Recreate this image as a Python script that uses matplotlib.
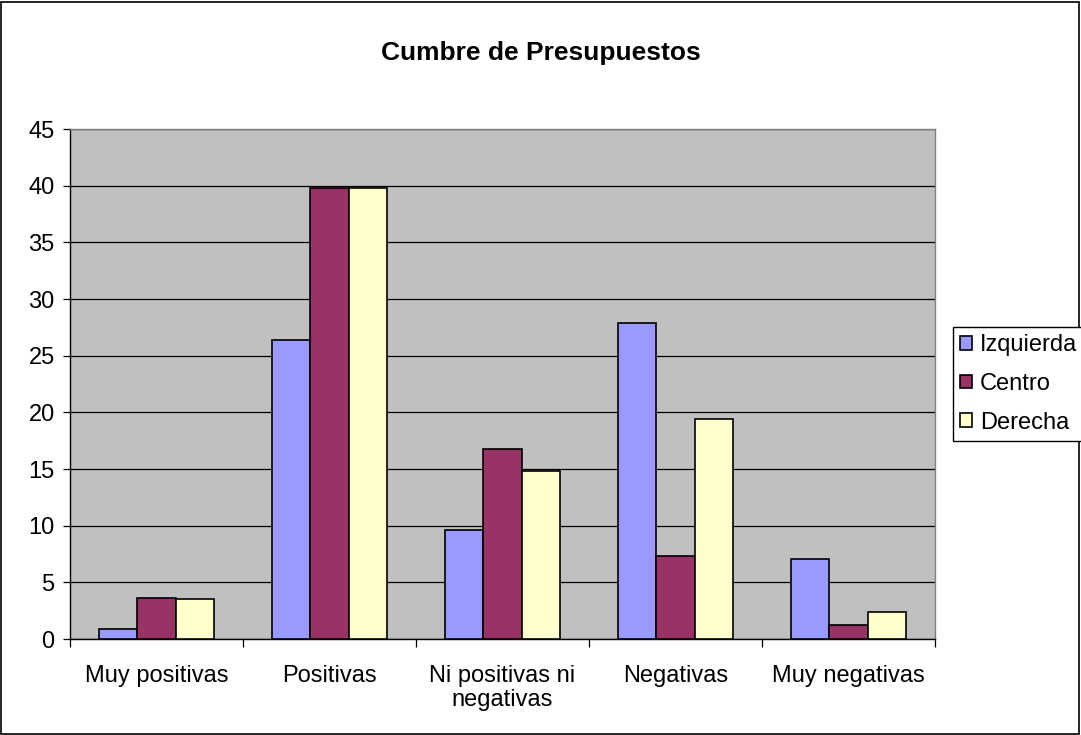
import matplotlib
matplotlib.use("Agg")
import matplotlib.pyplot as plt
import numpy as np

categories = ["Muy positivas", "Positivas", "Ni positivas ni\nnegativas", "Negativas", "Muy negativas"]
izquierda = [0.9, 26.4, 9.6, 27.9, 7.1]
centro = [3.6, 39.8, 16.8, 7.3, 1.25]
derecha = [3.5, 39.8, 14.8, 19.4, 2.4]
series_names = ["Izquierda", "Centro", "Derecha"]
colors = ["#9999FF", "#993366", "#FFFFCC"]
yticks = list(range(0, 50, 5))

W, H = 1081, 735
fig = plt.figure(figsize=(W / 100, H / 100), dpi=100)
fig.patch.set_facecolor("white")
# figure border
fig.add_artist(plt.Rectangle((1 / W, 1 / H), 1 - 3 / W, 1 - 3 / H, transform=fig.transFigure,
                             fill=False, edgecolor="black", linewidth=1.2))

ax = fig.add_axes([70 / W, 1 - 639 / H, (935 - 70) / W, (639 - 129) / H])
ax.set_facecolor("#C0C0C0")

x = np.arange(len(categories))
bw = 1 / 4.5
for i, (vals, name, c) in enumerate(zip([izquierda, centro, derecha], series_names, colors)):
    ax.bar(x + (i - 1) * bw, vals, width=bw, color=c, edgecolor="black", linewidth=1.2,
           label=name, zorder=3)

ax.set_xlim(-0.5, len(categories) - 0.5)
ax.set_ylim(0, 45)
ax.set_yticks(yticks)
ax.yaxis.grid(True, color="black", linewidth=0.9, zorder=1)
ax.set_axisbelow(True)
ax.tick_params(axis="y", labelsize=17, length=5, direction="out", width=0.9, pad=6)

ax.set_xticks(x)
ax.set_xticklabels(categories, fontsize=17, linespacing=1.1)
ax.tick_params(axis="x", length=0, pad=19)
ax.set_xticks(np.arange(-0.5, len(categories) + 0.5, 1), minor=True)
ax.tick_params(axis="x", which="minor", length=6, direction="out", width=0.9)

for side in ["top", "right"]:
    ax.spines[side].set_color("#808080")
    ax.spines[side].set_linewidth(1)
for side in ["left", "bottom"]:
    ax.spines[side].set_color("black")
    ax.spines[side].set_linewidth(1)

for lab in ax.get_xticklabels() + ax.get_yticklabels():
    lab.set_family("Liberation Sans")

fig.text(0.5, 1 - 53 / H, "Cumbre de Presupuestos", ha="center", va="center",
         fontsize=19, fontweight="bold", family="Liberation Sans")

leg = fig.legend(loc="center left", bbox_to_anchor=(953 / W, 1 - 384 / H),
                 prop={"family": "Liberation Sans", "size": 17},
                 frameon=True, fancybox=False, edgecolor="black", framealpha=1,
                 handlelength=0.5, handleheight=0.5, handletextpad=0.35,
                 borderpad=0.3, labelspacing=0.7, borderaxespad=0)
leg.get_frame().set_linewidth(1)

fig.savefig("out.png", dpi=100)
